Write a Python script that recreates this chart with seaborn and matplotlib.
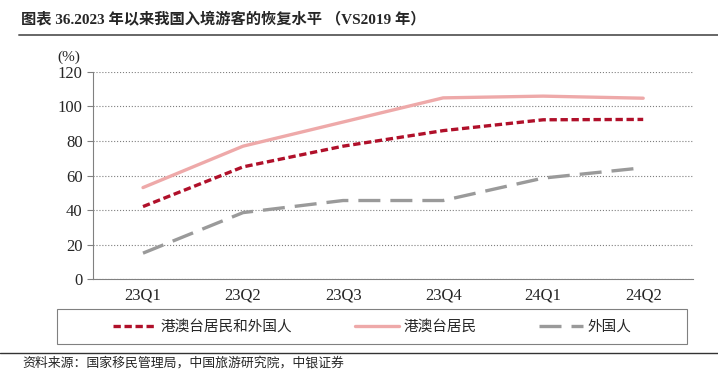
import matplotlib
matplotlib.use('Agg')
import matplotlib.pyplot as plt
import matplotlib.lines as mlines
import matplotlib.patches as mpatches
import pandas as pd
import seaborn as sns

# data (% of 2019 level)
quarters = ['23Q1', '23Q2', '23Q3', '23Q4', '24Q1', '24Q2']
total = [42, 65, 77, 86, 92.3, 92.5]
hmt = [53, 77, 91, 105, 106, 104.8]
foreign = [15, 38.5, 45.5, 45.5, 58.5, 64.5]
series_names = ['港澳台居民和外国人', '港澳台居民', '外国人']

df = pd.DataFrame({
    'quarter': quarters * 3,
    'x': list(range(len(quarters))) * 3,
    'value': total + hmt + foreign,
    'series': [s for s in series_names for _ in quarters],
})

sns.set_style('white')
plt.rcParams['font.family'] = ['Liberation Serif', 'Noto Sans CJK SC']

fig = plt.figure(figsize=(7.18, 3.87), dpi=100)
ax = fig.add_axes([0.1295, 0.279, 0.836, 0.535])

palette = {series_names[0]: '#B0102A', series_names[1]: '#EEA9A9', series_names[2]: '#9A9A9A'}
dashes = {series_names[0]: (2.2, 1.1), series_names[1]: '', series_names[2]: (6.6, 3.0)}
sns.lineplot(data=df, x='x', y='value', hue='series', style='series',
             palette=palette, dashes=dashes, linewidth=2.4, ax=ax, legend=False)

ax.set_xlim(-0.5, 5.5)
ax.set_ylim(0, 120)
ax.set_yticks(range(0, 121, 20))
ax.set_xticks(range(len(quarters)))
ax.set_xticklabels(quarters)
ax.set_xticks([i + 0.5 for i in range(-1, len(quarters))], minor=True)
ax.tick_params(axis='x', which='major', length=0, labelsize=12, pad=6)
ax.tick_params(axis='x', which='minor', length=4, color='#808080', direction='out')
ax.tick_params(axis='y', length=4, color='#808080', labelsize=12, direction='out', left=True)
ax.set_xlabel('')
ax.set_ylabel('')
ax.grid(axis='y', linestyle=':', color='#7f7f7f', linewidth=0.8)
for s in ['top', 'right']:
    ax.spines[s].set_visible(False)
for s in ['left', 'bottom']:
    ax.spines[s].set_color('#808080')
    ax.spines[s].set_linewidth(0.8)
ax.text(-0.06, 1.04, '(%)', transform=ax.transAxes, fontsize=11, ha='left', va='bottom')

# title and rules
fig.text(0.029, 0.948, '图表 36.2023 年以来我国入境游客的恢复水平 （VS2019 年）',
         fontsize=11, fontweight='bold', ha='left', va='center',
         family=['Liberation Serif', 'Noto Sans CJK SC'])
fig.add_artist(mlines.Line2D([0.026, 1], [0.909, 0.909], color='#666666', linewidth=1.4))
fig.add_artist(mlines.Line2D([0, 1], [0.088, 0.088], color='#333333', linewidth=1.0))
fig.text(0.031, 0.062, '资料来源：国家移民管理局，中国旅游研究院，中银证券',
         fontsize=9.3, style='italic', ha='left', va='center',
         family=['Noto Sans CJK SC'])

# legend box and entries
fig.add_artist(mpatches.Rectangle((0.0794, 0.111), 0.877, 0.0904, transform=fig.transFigure,
                                  fill=False, edgecolor='#808080', linewidth=0.8))
handles = [mlines.Line2D([], [], color=palette[n], linewidth=2.4,
                         linestyle=(0, dashes[n]) if dashes[n] else '-') for n in series_names]
fig.legend(handles, series_names, loc='center', ncol=3, bbox_to_anchor=(0.518, 0.156),
           frameon=False, handlelength=3.0, handletextpad=0.3, columnspacing=4.3,
           prop={'family': 'Noto Sans CJK SC', 'size': 10.5}, borderaxespad=0)

fig.savefig('out.png', dpi=100)
